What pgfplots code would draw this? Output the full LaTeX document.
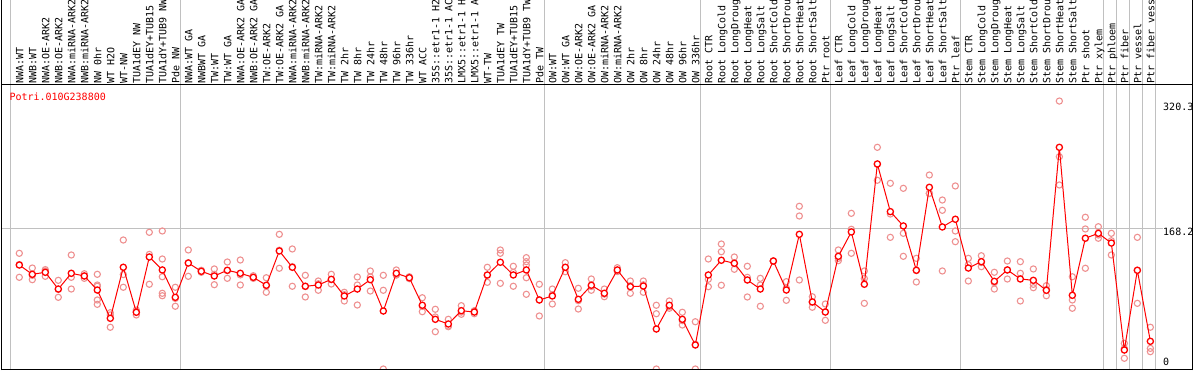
\documentclass[border=0pt]{standalone}
\usepackage{pgfplots}
\usepackage{pgfplotstable}
\pgfplotsset{compat=1.18}
\usepackage{fontspec}
\setmainfont{DejaVu Sans Mono}
\definecolor{gridgray}{RGB}{192,192,192}
\definecolor{reppink}{RGB}{238,145,145}
\newcommand\lblfont{\fontsize{10pt}{12pt}\selectfont}

\pgfplotstableread{
x y
0 124.3
1 113.2
2 115.6
3 95.6
4 114.4
5 111.2
6 94.4
7 60.6
8 121.6
9 67.8
10 133.9
11 118.4
12 85.7
13 126.7
14 116.8
15 111.2
16 118.0
17 114.4
18 109.6
19 100.1
20 141.1
21 121.6
22 98.9
23 100.4
24 107.2
25 87.3
26 95.6
27 106.8
28 69.3
29 114.4
30 109.1
31 76.2
32 59.4
33 53.8
34 69.7
35 68.1
36 112.4
37 127.6
38 112.4
39 118.4
40 82.5
41 87.3
42 121.6
43 83.3
44 100.1
45 90.5
46 118.4
47 98.4
48 99.2
49 47.8
50 76.2
51 59.4
52 28.7
53 112.4
54 130.0
55 126.4
56 106.4
57 95.6
58 129.1
59 94.4
60 161.0
61 80.1
62 68.1
63 134.7
64 163.8
65 101.3
66 245.1
67 188.1
68 171.0
69 118.0
70 217.2
71 169.8
72 179.0
73 120.7
74 128.3
75 104.8
76 118.4
77 107.6
78 106.0
79 94.1
80 265.0
81 88.1
82 156.3
83 162.2
84 150.6
85 22.7
86 118.0
87 33.1
}\means

\pgfplotstableread{
x y
0 138.3
0 109.6
0 124.9
1 120.7
1 106.8
1 112.0
2 117.2
2 110.8
2 118.8
3 106.0
3 85.7
3 95.1
4 136.3
4 95.6
4 109.6
5 113.9
5 108.4
5 111.3
6 113.2
6 98.9
6 82.5
6 77.3
6 100.4
7 67.3
7 49.9
7 64.6
8 154.2
8 97.7
8 112.9
9 64.6
9 70.5
9 68.3
10 163.4
10 101.3
10 137.0
11 165.0
11 131.5
11 110.3
11 90.5
11 87.6
12 97.7
12 75.0
12 84.4
13 142.3
13 110.8
13 127.0
14 118.0
14 115.6
14 116.8
15 119.6
15 100.8
15 113.2
16 127.9
16 108.4
16 117.7
17 130.3
17 100.4
17 112.5
18 111.5
18 108.4
18 108.9
19 109.1
19 91.7
19 99.5
20 161.0
20 120.4
20 142.0
21 143.5
21 98.9
21 122.4
22 112.0
22 86.1
22 98.6
23 105.2
23 94.1
23 101.9
24 113.2
24 101.6
24 106.8
25 91.7
25 81.3
25 88.9
26 110.0
26 100.4
26 76.5
27 117.2
27 93.2
27 110.0
28 112.0
28 94.1
28 0
29 118.4
29 112.4
29 112.4
30 110.3
30 108.0
30 109.0
31 85.2
31 68.5
31 74.9
32 71.4
32 44.6
32 62.2
33 59.4
33 50.6
33 51.4
34 75.7
34 65.4
34 68.0
35 68.5
35 66.1
35 69.7
36 121.6
36 103.6
36 112.0
37 142.3
37 138.3
37 102.4
38 122.8
38 98.9
38 115.5
39 133.1
39 128.3
39 124.3
39 109.1
39 89.3
40 101.3
40 63.4
40 82.8
41 95.6
41 77.7
41 88.6
42 127.1
42 116.3
42 121.4
43 96.5
43 71.7
43 81.7
44 107.6
44 94.1
44 98.6
45 95.6
45 86.4
45 89.5
46 121.1
46 116.5
46 117.6
47 105.2
47 90.5
47 99.5
48 105.2
48 91.7
48 100.7
49 76.2
49 66.1
49 0
50 81.3
50 72.6
50 74.7
51 67.8
51 52.6
51 57.8
52 56.5
52 0
52 29.6
53 131.5
53 98.4
53 107.3
54 149.4
54 140.2
54 100.1
55 133.9
55 119.2
55 126.1
56 122.8
56 109.6
56 86.1
57 108.4
57 100.4
57 75.0
58 129.1
58 129.1
58 129.1
59 104.4
59 82.1
59 96.7
60 194.5
60 182.9
60 106.4
61 86.4
61 73.8
61 80.1
62 77.7
62 58.2
62 68.4
63 142.3
63 132.3
63 129.5
64 186.1
64 138.3
64 167.0
65 117.2
65 78.5
65 108.2
66 265.0
66 225.6
66 244.7
67 222.0
67 185.3
67 157.4
68 216.0
68 162.2
68 134.7
69 132.3
69 104.0
69 117.7
70 231.9
70 210.0
70 209.7
71 202.0
71 189.7
71 117.2
72 218.8
72 165.0
72 152.2
73 132.3
73 105.2
73 124.6
74 135.4
74 122.3
74 127.2
75 115.6
75 95.6
75 103.2
76 129.1
76 107.6
76 118.5
77 128.3
77 114.4
77 81.3
78 119.6
78 97.2
78 101.2
79 99.6
79 87.6
79 95.1
80 320.3
80 253.8
80 220.0
81 110.3
81 82.5
81 72.6
82 181.4
82 167.4
82 120.4
83 170.1
83 156.3
83 160.2
84 162.2
84 136.3
84 153.3
85 30.7
85 12.8
85 24.6
86 157.4
86 78.5
86 118.1
87 49.9
87 20.7
87 24.7
}\reps

\begin{document}
\begin{tikzpicture}[x=1pt,y=1pt]
\useasboundingbox (0,0) rectangle (1194,370);
% group separators
\foreach \sx in {10.5,180.5,544.5,700.5,830.5,960.5,1103.5,1116.5,1129.5,1142.5,1155.5}
  \draw[gridgray, line width=1pt] (\sx,0) -- (\sx,370);
% gridline at 168.2
\draw[gridgray, line width=1pt] (2,141.7) -- (1163,141.7);
\begin{axis}[
  at={(2pt,1pt)}, anchor=south west,
  scale only axis, width=1191pt, height=284pt,
  xmin=-1.331, xmax=90.284, ymin=0, ymax=339.5,
  axis line style={draw=none},
  major tick length=0pt,
  ytick=\empty,
  xtick={0,...,87},
  xticklabel pos=upper,
  xticklabels={NWA:WT,NWB:WT,NWA:OE-ARK2,NWB:OE-ARK2,NWA:miRNA-ARK2,NWB:miRNA-ARK2,NW 0hr,WT H2O,WT-NW,TUA1dEY NW,TUA1dEY+TUB15,TUA1dY+TUB9 NW,Pde NW,NWA:WT GA,NWBWT GA,TW:WT,TW:WT GA,NWA:OE-ARK2 GA,NWB:OE-ARK2 GA,TW:OE-ARK2,TW:OE-ARK2 GA,NWA:miRNA-ARK2,NWB:miRNA-ARK2,TW:miRNA-ARK2,TW:miRNA-ARK2,TW 2hr,TW 8hr,TW 24hr,TW 48hr,TW 96hr,TW 336hr,WT ACC,35S::etr1-1 H2,35S::etr1-1 AC,LMX5::etr1-1 H,LMX5::etr1-1 A,WT-TW,TUA1dEY TW,TUA1dEY+TUB15,TUA1dY+TUB9 TW,Pde TW,OW:WT,OW:WT GA,OW:OE-ARK2,OW:OE-ARK2 GA,OW:miRNA-ARK2,OW:miRNA-ARK2,OW 2hr,OW 8hr,OW 24hr,OW 48hr,OW 96hr,OW 336hr,Root CTR,Root LongCold,Root LongDroug,Root LongHeat,Root LongSalt,Root ShortCold,Root ShortDrou,Root ShortHeat,Root ShortSalt,Ptr root,Leaf CTR,Leaf LongCold,Leaf LongDroug,Leaf LongHeat,Leaf LongSalt,Leaf ShortCold,Leaf ShortDrou,Leaf ShortHeat,Leaf ShortSalt,Ptr leaf,Stem CTR,Stem LongCold,Stem LongDroug,Stem LongHeat,Stem LongSalt,Stem ShortCold,Stem ShortDrou,Stem ShortHeat,Stem ShortSalt,Ptr shoot,Ptr xylem,Ptr phloem,Ptr fiber,Ptr vessel,Ptr fiber vess},
  xticklabel style={xshift=4pt, yshift=1.5pt, rotate=90, anchor=base west, inner sep=0pt, font=\lblfont},
  clip marker paths=true,
]
\addplot[only marks, mark=o, mark size=3.1pt, mark options={draw=reppink, line width=1.1pt}] table[x=x,y=y] {\reps};
\addplot[red, line width=1pt, mark=*, mark size=3.1pt, mark options={draw=red, fill=white, line width=1.3pt}] table[x=x,y=y] {\means};
\end{axis}
% frame
\draw[black, line width=1pt] (1.5,0) -- (1.5,370);
\draw[black, line width=1pt] (1192.5,0) -- (1192.5,370);
\draw[black, line width=1pt] (1.5,285) -- (1192.5,285);
\draw[black, line width=1pt] (1.5,0.5) -- (1192.5,0.5);
% texts
\node[anchor=base west, inner sep=0pt, text=red, font=\lblfont] at (9.3,269.5) {Potri.010G238800};
\node[anchor=base west, inner sep=0pt, font=\lblfont] at (1163,259.4) {320.3};
\node[anchor=base west, inner sep=0pt, font=\lblfont] at (1163,134.7) {168.2};
\node[anchor=base west, inner sep=0pt, font=\lblfont] at (1163,4.7) {0};
\end{tikzpicture}
\end{document}
